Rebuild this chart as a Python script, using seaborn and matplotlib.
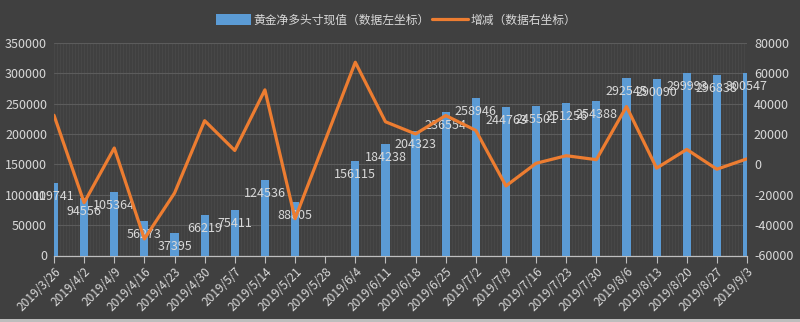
import matplotlib
matplotlib.use("Agg")
import matplotlib.pyplot as plt
from matplotlib.ticker import MultipleLocator, FixedLocator
from matplotlib.patches import Rectangle, Patch
from matplotlib.lines import Line2D
import numpy as np
import pandas as pd
import seaborn as sns

# Weekly report dates
dates = ['2019/3/26', '2019/4/2', '2019/4/9', '2019/4/16', '2019/4/23', '2019/4/30',
         '2019/5/7', '2019/5/14', '2019/5/21', '2019/5/28', '2019/6/4', '2019/6/11',
         '2019/6/18', '2019/6/25', '2019/7/2', '2019/7/9', '2019/7/16', '2019/7/23',
         '2019/7/30', '2019/8/6', '2019/8/13', '2019/8/20', '2019/8/27', '2019/9/3']

# Gold net long position (left axis); no report for 2019/5/28
net_long = [119741, 94556, 105364, 56273, 37395, 66219, 75411, 124536, 88805, np.nan,
            156115, 184238, 204323, 236554, 258946, 244763, 245501, 251256, 254388,
            292545, 290090, 299993, 296838, 300547]

# Week-on-week change (right axis)
change = [32400, -25185, 10808, -49091, -18878, 28824, 9192, 49125, -35731, np.nan,
          67310, 28123, 20085, 32231, 22392, -14183, 738, 5755, 3132, 38157,
          -2455, 9903, -3155, 3709]

left_ticks = [0, 50000, 100000, 150000, 200000, 250000, 300000, 350000]
right_ticks = [-60000, -40000, -20000, 0, 20000, 40000, 60000, 80000]

bar_label = '黄金净多头寸现值（数据左坐标）'
line_label = '增减（数据右坐标）'

BG = '#404040'
TXT = '#d9d9d9'
BLUE = '#5B9BD5'
ORANGE = '#ED7D31'

df = pd.DataFrame({'date': dates, 'pos': np.arange(len(dates)),
                   'net_long': net_long, 'change': change})
bars_df = df.dropna(subset=['net_long'])
line_df = df.dropna(subset=['change'])

sns.set_theme(style='dark')
plt.rcParams['font.family'] = ['Noto Sans CJK SC', 'DejaVu Sans']
plt.rcParams['axes.unicode_minus'] = False

fig = plt.figure(figsize=(8.0, 3.22), dpi=100, facecolor=BG)
ax = fig.add_axes([54 / 800, 1 - 255.5 / 322, (747 - 54) / 800, (255.5 - 43) / 322])
ax.set_facecolor(BG)

sns.barplot(data=bars_df, x='date', y='net_long', order=dates, color=BLUE,
            saturation=1, width=0.27, ax=ax, zorder=3, edgecolor='none', linewidth=0)

ax.set_xlim(0, len(dates) - 1)
ax.set_ylim(0, 350000)
ax.yaxis.set_major_locator(FixedLocator(left_ticks))
ax.set_yticklabels([str(t) for t in left_ticks])
ax.set_xlabel('')
ax.set_ylabel('')

# Value labels just below the top of each bar
for _, r in bars_df.iterrows():
    ax.annotate(f"{int(r.net_long)}", (r.pos, r.net_long), xytext=(0, -13.5 * 0.72),
                textcoords='offset points', ha='center', va='center',
                color=TXT, fontsize=9, zorder=4)

# Gridlines
ax.grid(axis='y', which='major', color='#5c5c5c', linewidth=0.8, zorder=0)
ax.xaxis.set_minor_locator(MultipleLocator(0.1))
ax.grid(axis='x', which='minor', color='#494949', linewidth=0.6, zorder=0)
ax.grid(axis='x', which='major', color='#494949', linewidth=0.6, zorder=0)

for s in ['left', 'right', 'top']:
    ax.spines[s].set_visible(False)
ax.spines['bottom'].set_color('#bfbfbf')
ax.spines['bottom'].set_linewidth(0.9)

ax.tick_params(axis='x', which='major', direction='out', length=5, width=0.8,
               color='#bfbfbf', labelcolor=TXT, labelsize=8.6, pad=2, bottom=True)
ax.tick_params(axis='x', which='minor', length=0)
ax.tick_params(axis='y', length=0, labelcolor=TXT, labelsize=9, pad=5)
for lbl in ax.get_xticklabels():
    lbl.set_rotation(45)
    lbl.set_ha('right')
    lbl.set_va('top')
    lbl.set_rotation_mode('anchor')

# Change line on secondary axis
ax2 = ax.twinx()
sns.lineplot(data=line_df, x='pos', y='change', color=ORANGE, linewidth=2.3,
             ax=ax2, zorder=5, legend=False)
ax2.set_ylim(-60000, 80000)
ax2.yaxis.set_major_locator(FixedLocator(right_ticks))
ax2.set_yticklabels([str(t) for t in right_ticks])
ax2.set_xlim(0, len(dates) - 1)
ax2.set_xlabel('')
ax2.set_ylabel('')
ax2.grid(False)
for s in ax2.spines.values():
    s.set_visible(False)
ax2.tick_params(axis='y', length=0, labelcolor=TXT, labelsize=9, pad=5)

# Legend centred across the top
handles = [Patch(facecolor=BLUE, edgecolor='none'),
           Line2D([], [], color=ORANGE, linewidth=2.3)]
fig.legend(handles, [bar_label, line_label], loc='center',
           bbox_to_anchor=(0.495, 1 - 20 / 322), ncol=2, frameon=False,
           fontsize=8.5, labelcolor=TXT, handlelength=3.0, handleheight=1.1,
           handletextpad=0.2, columnspacing=0.2)

# Light border strip along the bottom edge
fig.add_artist(Rectangle((0, 0), 1, 3 / 322, transform=fig.transFigure,
                         facecolor='#bdbdbd', edgecolor='none'))

fig.savefig('out.png', dpi=100, facecolor=BG)
